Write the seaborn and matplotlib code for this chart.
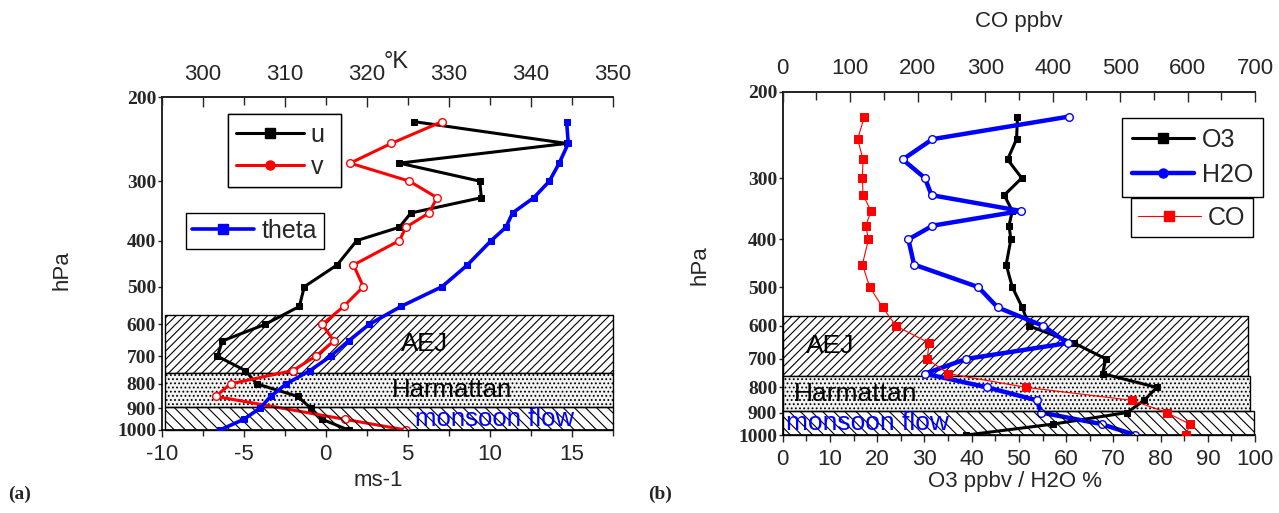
import matplotlib
matplotlib.use('Agg')
import matplotlib.pyplot as plt
import matplotlib.patches as mpatches
from matplotlib.lines import Line2D
from matplotlib.ticker import MultipleLocator, NullLocator
import numpy as np
import pandas as pd
import seaborn as sns

# pressure levels (hPa)
pres = [225, 250, 275, 300, 325, 350, 375, 400, 450, 500,
        550, 600, 650, 700, 750, 800, 850, 900, 950, 1000]

# panel (a): winds (m/s) and potential temperature (K)
u_wind = [5.4, 14.7, 4.5, 9.4, 9.5, 5.2, 4.5, 1.9, 0.7, -1.3,
          -1.6, -3.7, -6.3, -6.6, -4.9, -4.2, -1.7, -0.9, -0.2, 1.4]
v_pres = [225, 250, 275, 300, 325, 350, 375, 400, 450, 500,
          550, 600, 650, 700, 750, 800, 850, 950, 1000]
v_wind = [7.1, 4.0, 1.5, 5.1, 6.8, 6.3, 4.9, 4.5, 1.7, 2.3,
          1.1, -0.2, 0.5, -0.6, -2.0, -5.8, -6.7, 1.2, 4.9]
theta = [344.4, 344.6, 343.5, 342.3, 340.4, 337.8, 337.0, 335.2, 332.3, 329.2,
         324.2, 320.3, 317.8, 315.6, 313.1, 310.2, 308.3, 307.0, 305.0, 302.1]

# panel (b): O3 (ppbv), H2O (%), CO (ppbv)
o3 = [49.7, 49.5, 47.6, 50.6, 46.9, 48.6, 47.9, 48.3, 47.3, 48.6,
      50.7, 52.2, 61.7, 68.4, 67.7, 79.2, 76.5, 72.9, 57.3, 38.9]
h2o = [60.5, 31.7, 25.4, 30.1, 31.5, 50.4, 31.7, 26.6, 27.8, 41.4,
       45.5, 55.2, 60.3, 38.9, 30.1, 43.3, 53.8, 54.7, 67.5, 74.6]
co = [121, 111, 119, 118, 119, 131, 123, 127, 118, 129,
      148, 168, 217, 214, 245, 361, 518, 569, 603, 598]

# flow layers
layers = ['AEJ', 'Harmattan', 'monsoon flow']
layer_top = [573, 760, 895]
layer_bot = [760, 895, 1000]

p_ticks = [200, 300, 400, 500, 600, 700, 800, 900, 1000]

sns.set_style('ticks')
plt.rcParams['font.family'] = ['Liberation Sans', 'DejaVu Sans']
plt.rcParams['hatch.linewidth'] = 0.8
plt.rcParams['axes.unicode_minus'] = False

fig = plt.figure(figsize=(12.79, 5.13), dpi=100)
ax1 = fig.add_axes([0.1264, 0.1618, 0.3525, 0.6485])
ax2 = fig.add_axes([0.612, 0.152, 0.3693, 0.6696])

hatches = ['////', '....', '\\\\\\']
faces = ['white', '#f2f2f2', 'none']
text_col = ['black', 'black', 'blue']


def pressure_axis(ax):
    ax.set_yscale('log')
    ax.set_ylim(1000, 200)
    ax.yaxis.set_major_locator(plt.FixedLocator(p_ticks))
    ax.yaxis.set_minor_locator(NullLocator())
    ax.set_yticklabels([str(p) for p in p_ticks], fontfamily='Liberation Serif',
                       fontweight='bold', fontsize=14)
    ax.tick_params(axis='y', direction='out', length=3, pad=1, width=1)
    ax.spines['right'].set_visible(False)
    for s in ['left', 'bottom', 'top']:
        ax.spines[s].set_linewidth(1.2)
        ax.spines[s].set_color('black')


def add_layers(ax, x0, x1s, txt_x, fs):
    for i, name in enumerate(layers):
        r = mpatches.Rectangle((x0, layer_top[i]), x1s[i] - x0, layer_bot[i] - layer_top[i],
                               facecolor=faces[i], edgecolor='black', hatch=hatches[i],
                               linewidth=1, zorder=1 if i < 2 else 6, clip_on=False)
        ax.add_patch(r)
        ym = np.sqrt(layer_top[i] * layer_bot[i])
        ax.text(txt_x[i], ym, name, ha='center', va='center', fontsize=fs,
                color=text_col[i], zorder=7)


# ---------------- panel (a) ----------------
pressure_axis(ax1)
ax1.set_xlim(-10, 17.5)
add_layers(ax1, -9.8, [17.5, 17.5, 17.5], [6.0, 7.7, 10.3], 18.5)

sns.lineplot(x=u_wind, y=pres, sort=False, estimator=None, ax=ax1, color='black',
             linewidth=2.2, marker='s', markersize=5, markeredgecolor='black', zorder=3)
sns.lineplot(x=v_wind, y=v_pres, sort=False, estimator=None, ax=ax1, color='red',
             linewidth=2.2, marker='o', markersize=5.5, markerfacecolor='white',
             markeredgecolor='red', markeredgewidth=1, zorder=3)
ax1.xaxis.set_major_locator(MultipleLocator(5))
ax1.xaxis.set_minor_locator(MultipleLocator(2.5))
ax1.tick_params(axis='x', which='both', direction='out', labelsize=16, pad=5, width=1)
ax1.tick_params(axis='x', which='major', length=5)
ax1.tick_params(axis='x', which='minor', length=4)
ax1.set_xlabel('')
ax1.set_ylabel('')

ax1t = ax1.twiny()
sns.lineplot(x=theta, y=pres, sort=False, estimator=None, ax=ax1t, color='blue',
             linewidth=2.6, marker='s', markersize=5, markeredgecolor='blue', zorder=3)
ax1t.set_xlim(295, 350)
ax1t.set_ylim(1000, 200)
ax1t.xaxis.set_major_locator(MultipleLocator(10))
ax1t.xaxis.set_minor_locator(MultipleLocator(5))
ax1t.tick_params(axis='x', which='both', direction='in', labelsize=16, pad=9, width=1)
ax1t.tick_params(axis='x', which='major', length=7)
ax1t.tick_params(axis='x', which='minor', length=6)
for s in ['left', 'right', 'bottom']:
    ax1t.spines[s].set_visible(False)
ax1t.spines['top'].set_linewidth(1.2)
ax1t.set_ylabel('')

# ---------------- panel (b) ----------------
pressure_axis(ax2)
ax2.set_xlim(0, 100)
add_layers(ax2, 0.1, [98.5, 99.0, 99.7], [10.0, 15.4, 18.0], 19)

sns.lineplot(x=o3, y=pres, sort=False, estimator=None, ax=ax2, color='black',
             linewidth=2.2, marker='s', markersize=5, markeredgecolor='black', zorder=3)
sns.lineplot(x=h2o, y=pres, sort=False, estimator=None, ax=ax2, color='blue',
             linewidth=3.2, marker='o', markersize=5.5, markerfacecolor='white',
             markeredgecolor='blue', markeredgewidth=1, zorder=3)
ax2.xaxis.set_major_locator(MultipleLocator(10))
ax2.xaxis.set_minor_locator(MultipleLocator(5))
ax2.tick_params(axis='x', which='both', direction='out', labelsize=16, pad=5, width=1)
ax2.tick_params(axis='x', which='major', length=5)
ax2.tick_params(axis='x', which='minor', length=4)
ax2.set_xlabel('')
ax2.set_ylabel('')

ax2t = ax2.twiny()
sns.lineplot(x=co, y=pres, sort=False, estimator=None, ax=ax2t, color='red',
             linewidth=0.8, marker='s', markersize=5.5, markeredgecolor='red', zorder=3)
ax2t.set_xlim(0, 700)
ax2t.set_ylim(1000, 200)
ax2t.xaxis.set_major_locator(MultipleLocator(100))
ax2t.xaxis.set_minor_locator(MultipleLocator(50))
ax2t.tick_params(axis='x', which='both', direction='in', labelsize=16, pad=9, width=1)
ax2t.tick_params(axis='x', which='major', length=7)
ax2t.tick_params(axis='x', which='minor', length=6)
for s in ['left', 'right', 'bottom']:
    ax2t.spines[s].set_visible(False)
ax2t.spines['top'].set_linewidth(1.2)
ax2t.set_xlabel('CO ppbv', fontsize=16, labelpad=22)
ax2t.set_ylabel('')

# ---------------- legends ----------------
def handle(color, marker, lw, mfc=None):
    return Line2D([], [], color=color, linewidth=lw, marker=marker, markersize=6.5,
                  markerfacecolor=mfc or color, markeredgecolor=color)


leg_kw = dict(frameon=True, fancybox=False, edgecolor='black', framealpha=1,
              fontsize=18, handlelength=2.5, handletextpad=0.3, borderpad=0.35,
              labelspacing=0.3, borderaxespad=0)

l1 = ax1t.legend([handle('black', 's', 2.2), handle('red', 'o', 2.2)], ['u ', 'v '],
                 loc='upper left', bbox_to_anchor=(0.178, 0.777),
                 bbox_transform=fig.transFigure, **dict(leg_kw, handlelength=2.7))
ax1t.add_artist(l1)
l2 = ax1.legend([handle('blue', 's', 2.6)], ['theta'], loc='upper left',
                bbox_to_anchor=(0.1452, 0.5854), bbox_transform=fig.transFigure,
                **dict(leg_kw, borderpad=0.25))
l2.set_zorder(10)
l3 = ax2t.legend([handle('black', 's', 2.2), handle('blue', 'o', 3.2)], ['O3', 'H2O'],
                 loc='upper left', bbox_to_anchor=(0.877, 0.7706),
                 bbox_transform=fig.transFigure,
                 **dict(leg_kw, labelspacing=0.45, borderpad=0.4))
ax2t.add_artist(l3)
ax2t.legend([handle('red', 's', 0.8)], ['CO'], loc='upper left',
            bbox_to_anchor=(0.884, 0.6134), bbox_transform=fig.transFigure,
            **dict(leg_kw, borderpad=0.3))

# ---------------- free texts ----------------
fig.text(0.2955, 1 - 486 / 513, 'ms-1', fontsize=16, ha='center', va='baseline')
fig.text(0.7935, 1 - 487 / 513, 'O3 ppbv / H2O %', fontsize=16, ha='center', va='baseline')
fig.text(0.310, 0.879, '°K', fontsize=17, ha='center', va='center')
fig.text(0.0485, 0.474, 'hPa', fontsize=16, rotation=90, ha='center', va='center')
fig.text(0.547, 0.483, 'hPa', fontsize=16, rotation=90, ha='center', va='center')
fig.text(0.006, 0.037, '(a)', fontsize=14, fontweight='bold', fontfamily='Liberation Serif',
         ha='left', va='center')
fig.text(0.507, 0.037, '(b)', fontsize=14, fontweight='bold', fontfamily='Liberation Serif',
         ha='left', va='center')

fig.savefig('out.png', dpi=100)
